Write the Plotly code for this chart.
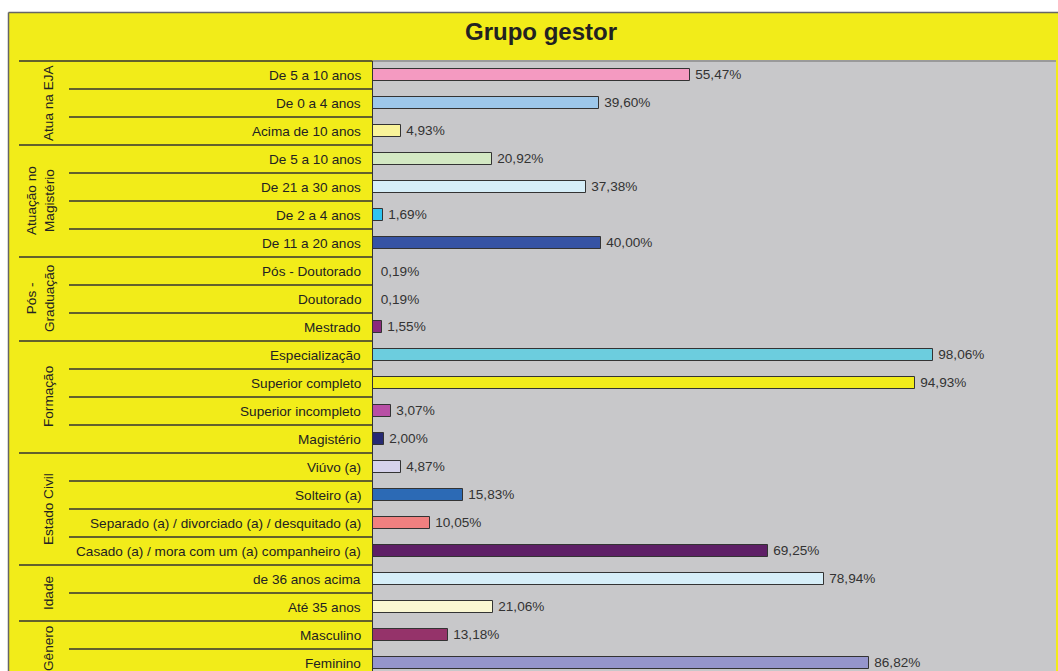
import plotly.graph_objects as go

# ---------------- data ----------------
groups = ["Atua na EJA", "Atuação no<br>Magistério", "Pós -<br>Graduação", "Formação",
          "Estado Civil", "Idade", "Gênero"]
group_sizes = [3, 4, 3, 4, 4, 2, 2]
categories = [
    "De 5 a 10 anos", "De 0 a 4 anos", "Acima de 10 anos",
    "De 5 a 10 anos", "De 21 a 30 anos", "De 2 a 4 anos", "De 11 a 20 anos",
    "Pós - Doutorado", "Doutorado", "Mestrado",
    "Especialização", "Superior completo", "Superior incompleto", "Magistério",
    "Viúvo (a)", "Solteiro (a)", "Separado (a) / divorciado (a) / desquitado (a)",
    "Casado (a) / mora com um (a) companheiro (a)",
    "de 36 anos acima", "Até 35 anos",
    "Masculino", "Feminino",
]
values = [55.47, 39.60, 4.93,
          20.92, 37.38, 1.69, 40.00,
          0.19, 0.19, 1.55,
          98.06, 94.93, 3.07, 2.00,
          4.87, 15.83, 10.05, 69.25,
          78.94, 21.06,
          13.18, 86.82]
colors = ["#F49AC1", "#9DC7EA", "#F9F39A",
          "#D3E8C3", "#D6EEF8", "#2EC4EF", "#3653A4",
          "#C8C8CA", "#C8C8CA", "#8B2A7C",
          "#6CCDDE", "#F2EC1A", "#B84FA5", "#262A73",
          "#D5D2EB", "#2C6AB5", "#F08080", "#5E1F66",
          "#D6EEF8", "#FAF7D2",
          "#95336A", "#9595CC"]
line_widths = [1, 1, 1, 1, 1, 1, 1, 0, 0, 1, 1, 1, 1, 1, 1, 1, 1, 1, 1, 1, 1, 1]

# ---------------- layout constants ----------------
W, H = 1058, 671
ML, MR, MT, MB = 373, 2, 61, 0
PW, PH = W - ML - MR, H - MT - MB
ROW_PX = 28
PX_PER_UNIT = 5.71
YELLOW = "#F2EC19"
GRAY = "#C8C8CA"
FONT = "Liberation Sans, Arial, sans-serif"
FS = 13.6


def px_x(px):
    return (px - ML) / PW


def px_y(py):
    return (H - MB - py) / PH


n = len(categories)
ypos = list(range(n))
labels = ["\u2009" + f"{v:.2f}".replace(".", ",") + "%" for v in values]

fig = go.Figure()
fig.add_trace(go.Bar(
    x=values, y=ypos, orientation="h", width=0.4,
    marker=dict(color=colors, line=dict(color="#333333", width=line_widths)),
    text=labels, textposition="outside", constraintext="none", cliponaxis=False,
    textfont=dict(family=FONT, size=FS, color="#333333"),
    hoverinfo="skip",
))

visible_rows = PH / ROW_PX
shapes = []
annotations = []

# white margins / frame
shapes.append(dict(type="rect", xref="paper", yref="paper", x0=px_x(-5), x1=px_x(W + 5),
                   y0=px_y(12.5), y1=px_y(-5), fillcolor="white", line_width=0, layer="below"))
shapes.append(dict(type="rect", xref="paper", yref="paper", x0=px_x(-5), x1=px_x(8.5),
                   y0=px_y(H + 5), y1=px_y(-5), fillcolor="white", line_width=0, layer="below"))
shapes.append(dict(type="line", xref="paper", yref="paper", x0=px_x(8.5), x1=px_x(W + 5),
                   y0=px_y(12.5), y1=px_y(12.5), line=dict(color="#666666", width=1.5)))
shapes.append(dict(type="line", xref="paper", yref="paper", x0=px_x(8.5), x1=px_x(8.5),
                   y0=px_y(12.5), y1=px_y(H + 5), line=dict(color="#666666", width=1.5)))
# plot top border
shapes.append(dict(type="line", xref="paper", yref="paper", x0=0, x1=1, y0=1, y1=1,
                   line=dict(color="#9A9A9A", width=2)))
# table right edge
shapes.append(dict(type="line", xref="paper", yref="paper", x0=px_x(372.5), x1=px_x(372.5),
                   y0=0, y1=1, line=dict(color="#333333", width=1)))

# row lines and group lines
start = 0
group_starts = []
for g, size in zip(groups, group_sizes):
    group_starts.append(start)
    start += size
for i in range(n):
    is_group = i in group_starts
    x0 = px_x(19) if is_group else px_x(69)
    shapes.append(dict(type="line", xref="paper", yref="paper", x0=x0, x1=px_x(372.5),
                       y0=1 - i / visible_rows, y1=1 - i / visible_rows,
                       line=dict(color="#333333", width=1.3)))

# category labels
for i, c in enumerate(categories):
    annotations.append(dict(text=c, xref="paper", yref="y", x=px_x(363), y=i,
                            xanchor="right", yanchor="middle", showarrow=False,
                            font=dict(family=FONT, size=FS, color="#222222")))

# group labels
for g, s, size in zip(groups, group_starts, group_sizes):
    mid = s + (size - 1) / 2
    two = "<br>" in g
    annotations.append(dict(text=g, xref="paper", yref="y", x=px_x(40 if two else 48), y=mid,
                            xanchor="center", yanchor="middle", textangle=-90, showarrow=False,
                            font=dict(family=FONT, size=FS, color="#222222")))

# title
annotations.append(dict(text="<b>Grupo gestor</b>", xref="paper", yref="paper",
                        x=px_x(541), y=px_y(32), xanchor="center", yanchor="middle",
                        showarrow=False, font=dict(family=FONT, size=24, color="#222222")))

fig.update_layout(
    width=W, height=H,
    margin=dict(l=ML, r=MR, t=MT, b=MB, pad=0),
    paper_bgcolor=YELLOW, plot_bgcolor=GRAY,
    showlegend=False,
    xaxis=dict(range=[0, PW / PX_PER_UNIT], visible=False, fixedrange=True),
    yaxis=dict(range=[-0.5 + visible_rows, -0.5], visible=False, fixedrange=True),
    shapes=shapes, annotations=annotations,
    bargap=0,
)

fig.write_html("out.html", config={"displayModeBar": False},
               post_script="document.body.style.margin='0';document.body.style.overflow='hidden';")
